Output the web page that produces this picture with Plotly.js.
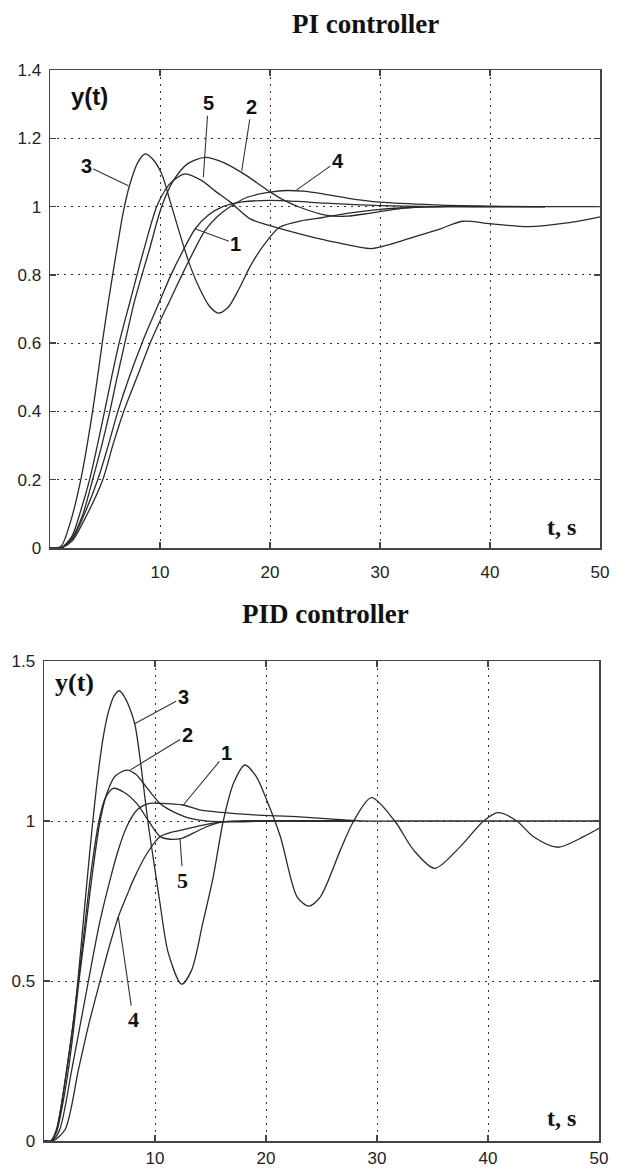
<!DOCTYPE html>
<html>
<head>
<meta charset="utf-8">
<script src="https://cdn.plot.ly/plotly-3.0.1.min.js"></script>
<style>html,body{margin:0;padding:0;background:#fff}#chart{width:629px;height:1169px}</style>
</head>
<body>
<div id="chart"></div>
<script>
// ---------- PI controller (top) ----------
const piT1 = [0, 1, 2, 3, 4.34, 5.2, 6.17, 7.2, 8.36, 9.2, 10.0, 11.0, 12.0, 13.2, 14.4, 15.7, 17.5, 20, 22.5, 25, 30, 35, 40, 45];
const piY1 = [0, 0, 0.025, 0.09, 0.2, 0.29, 0.4, 0.5, 0.6, 0.665, 0.725, 0.8, 0.865, 0.935, 0.975, 1.0, 1.014, 1.018, 1.015, 1.01, 1.003, 1.0, 1.0, 1.0];

const piT2 = [0, 1, 2, 3, 3.87, 4.7, 5.44, 6.1, 6.8, 7.7, 9.0, 10.15, 11.2, 12.5, 14.1, 15.7, 17.4, 18.8, 20, 21.3, 22.7, 25.2, 27, 29, 32, 35, 40, 45];
const piY2 = [0, 0, 0.03, 0.1, 0.2, 0.3, 0.4, 0.5, 0.6, 0.725, 0.87, 1.0, 1.075, 1.125, 1.144, 1.13, 1.1, 1.07, 1.043, 1.018, 0.998, 0.974, 0.972, 0.98, 0.995, 1.0, 1.0, 1.0];

const piT3 = [0, 1, 1.8, 2.8, 3.87, 4.75, 5.3, 5.9, 6.67, 7.27, 8.0, 8.64, 9.3, 10.15, 10.9, 11.8, 12.7, 13.6, 14.5, 15.3, 16.2, 17.2, 18.2, 19.5, 20.9, 22.8, 24.8, 27, 30, 33, 36, 40, 45, 50];
const piY3 = [0, 0.005, 0.07, 0.2, 0.4, 0.6, 0.72, 0.84, 0.985, 1.066, 1.13, 1.154, 1.14, 1.096, 1.018, 0.92, 0.83, 0.76, 0.708, 0.688, 0.705, 0.76, 0.825, 0.89, 0.94, 0.958, 0.968, 0.98, 0.992, 0.998, 1.0, 1.0, 1.0, 1.0];

const piT4 = [0, 1, 2, 3, 4.8, 5.7, 6.7, 7.9, 9.1, 10.0, 10.9, 12.0, 13.0, 14.1, 15.2, 16.4, 18, 20, 21.5, 23, 25, 27, 30, 35, 40, 45];
const piY4 = [0, 0, 0.02, 0.075, 0.2, 0.3, 0.4, 0.5, 0.6, 0.665, 0.725, 0.8, 0.865, 0.93, 0.97, 1.0, 1.028, 1.042, 1.047, 1.045, 1.036, 1.025, 1.013, 1.005, 1.001, 1.0];

const piT5 = [0, 1, 2, 2.8, 3.6, 4.3, 4.96, 5.6, 6.28, 7.3, 8.5, 9.7, 10.5, 11.2, 12.3, 13.8, 15.0, 16.4, 18.2, 20, 23.3, 26, 29.2, 31, 33, 35.5, 37.5, 40, 43.5, 47, 50];
const piY5 = [0, 0, 0.035, 0.11, 0.2, 0.3, 0.4, 0.5, 0.6, 0.725, 0.87, 1.0, 1.05, 1.076, 1.096, 1.076, 1.046, 1.013, 0.964, 0.944, 0.915, 0.895, 0.877, 0.89, 0.91, 0.935, 0.957, 0.95, 0.941, 0.952, 0.97];

// ---------- PID controller (bottom) ----------
const pidT1 = [0, 0.7, 1.4, 2.5, 4.0, 5.0, 5.95, 6.7, 7.45, 8.4, 9.5, 10.5, 12.5, 14, 16, 18.6, 23, 26, 28.5, 32, 40, 50];
const pidY1 = [0, 0, 0.034, 0.222, 0.5, 0.68, 0.816, 0.91, 0.982, 1.035, 1.055, 1.055, 1.05, 1.035, 1.027, 1.02, 1.013, 1.006, 1.0, 1.0, 1.0, 1.0];

const pidT2 = [0, 0.6, 1.14, 1.6, 2.1, 2.6, 3.15, 3.7, 4.3, 5.05, 5.7, 6.4, 7.45, 8.3, 8.95, 9.7, 10.45, 11.2, 11.95, 13, 14.05, 15.5, 17, 20, 24, 28];
const pidY2 = [0, 0, 0.03, 0.1, 0.2, 0.33, 0.5, 0.65, 0.82, 1.0, 1.09, 1.14, 1.159, 1.145, 1.118, 1.085, 1.055, 1.037, 1.024, 1.01, 1.003, 0.998, 0.997, 1.0, 1.0, 1.0];

const pidT3 = [0, 0.6, 1.14, 1.6, 2.04, 2.6, 3.05, 3.5, 3.95, 4.4, 4.85, 5.34, 5.8, 6.3, 6.79, 7.3, 7.75, 8.2, 8.75, 9.35, 10.0, 10.45, 11.2, 12.4, 13.3, 14.3, 15.25, 16.15, 17.1, 18.1, 19.1, 20.06, 21.3, 22.8, 23.85, 24.9, 26.7, 27.9, 29.5, 31.6, 33.3, 35.2, 37.5, 39.6, 40.9, 42.6, 44.1, 46.3, 48.6, 50];
const pidY3 = [0, 0, 0.034, 0.12, 0.222, 0.36, 0.5, 0.67, 0.84, 1.0, 1.14, 1.263, 1.34, 1.39, 1.407, 1.385, 1.35, 1.3, 1.17, 1.0, 0.847, 0.743, 0.587, 0.49, 0.534, 0.68, 0.826, 1.0, 1.12, 1.175, 1.14, 1.066, 0.951, 0.763, 0.734, 0.763, 0.909, 1.0, 1.073, 1.0, 0.909, 0.852, 0.92, 1.0, 1.026, 1.0, 0.951, 0.918, 0.951, 0.977];

const pidT4 = [0, 0.8, 1.9, 3.1, 4.0, 5.05, 5.9, 6.7, 7.5, 8.05, 9.3, 10.45, 11.5, 12.5, 14, 16.15, 18, 22, 28];
const pidY4 = [0, 0, 0.036, 0.222, 0.36, 0.5, 0.61, 0.701, 0.77, 0.816, 0.9, 0.951, 0.965, 0.972, 0.985, 0.998, 1.0, 1.0, 1.0];

const pidT5 = [0, 0.6, 1.1, 1.6, 2.05, 2.6, 3.1, 3.6, 4.2, 4.95, 5.5, 6.24, 7.2, 8.35, 9.55, 10.45, 11.35, 12.4, 13.5, 14.65, 16.2, 18, 21, 25, 28];
const pidY5 = [0, 0, 0.034, 0.12, 0.222, 0.36, 0.5, 0.65, 0.83, 1.0, 1.07, 1.102, 1.09, 1.055, 0.993, 0.952, 0.943, 0.946, 0.963, 0.982, 0.998, 1.0, 1.0, 1.0, 1.0];

// axis ticks
const xTicks = [10, 20, 30, 40, 50];
const piYTicks = [0, 0.2, 0.4, 0.6, 0.8, 1, 1.2, 1.4];
const pidYTicks = [0, 0.5, 1, 1.5];

const lineStyle = {color: '#2a2a2a', width: 1.3, shape: 'spline', smoothing: 0.8};
function tr(x, y, xa, ya) {
  return {x: x, y: y, xaxis: xa, yaxis: ya, type: 'scatter', mode: 'lines', line: lineStyle, hoverinfo: 'skip', showlegend: false};
}
const data = [
  tr(piT1, piY1, 'x', 'y'), tr(piT2, piY2, 'x', 'y'), tr(piT3, piY3, 'x', 'y'),
  tr(piT4, piY4, 'x', 'y'), tr(piT5, piY5, 'x', 'y'),
  tr(pidT1, pidY1, 'x2', 'y2'), tr(pidT2, pidY2, 'x2', 'y2'), tr(pidT3, pidY3, 'x2', 'y2'),
  tr(pidT4, pidY4, 'x2', 'y2'), tr(pidT5, pidY5, 'x2', 'y2')
];

const tickFont = {family: 'Liberation Sans, Arial, sans-serif', size: 17, color: '#222'};
function xAxis(domain, anchor, standoff) {
  return {domain: domain, anchor: anchor, range: [0, 50], tickvals: xTicks, showgrid: true,
    gridcolor: '#333', griddash: '2px,5px', gridwidth: 1, zeroline: false,
    showline: true, linecolor: '#444', linewidth: 1.5, mirror: 'ticks',
    ticks: 'inside', ticklen: 6, tickcolor: '#444', tickwidth: 1.3,
    tickfont: tickFont, ticklabelstandoff: standoff, fixedrange: true};
}
function yAxis(domain, anchor, rng, vals) {
  return {domain: domain, anchor: anchor, range: rng, tickvals: vals, showgrid: true,
    gridcolor: '#333', griddash: '2px,5px', gridwidth: 1, zeroline: false,
    showline: true, linecolor: '#444', linewidth: 1.5, mirror: 'ticks',
    ticks: 'inside', ticklen: 6, tickcolor: '#444', tickwidth: 1.3,
    tickfont: tickFont, ticklabelstandoff: 4, fixedrange: true};
}

const serifB = {family: 'Liberation Serif, Times New Roman, serif', size: 27, color: '#111'};
const labSans = {family: 'Liberation Sans Narrow, Liberation Sans, Arial, sans-serif', size: 20, color: '#111'};
const labSerif = {family: 'Liberation Serif, Times New Roman, serif', size: 22, color: '#111'};

function lab(text, x, y, ax, ay, xr, yr, font) {
  return {text: '<b>' + text + '</b>', x: x, y: y, xref: xr, yref: yr, ax: ax, ay: ay,
    showarrow: true, arrowhead: 0, arrowwidth: 1.1, arrowcolor: '#333', standoff: 0,
    font: font, borderpad: 1};
}
function txt(text, x, y, xr, yr, font) {
  return {text: text, x: x, y: y, xref: xr, yref: yr, showarrow: false, font: font,
    xanchor: 'center', yanchor: 'middle'};
}

const annotations = [
  txt('<b>PI controller</b>', 365 / 629, 1 - 24 / 1169, 'paper', 'paper', serifB),
  txt('<b>PID controller</b>', 325 / 629, 1 - 614 / 1169, 'paper', 'paper', serifB),
  txt('<b>y(t)</b>', 89 / 629, 1 - 96 / 1169, 'paper', 'paper', {family: 'Liberation Sans Narrow, Liberation Sans, Arial, sans-serif', size: 24, color: '#111'}),
  txt('<b>y(t)</b>', 74 / 629, 1 - 682 / 1169, 'paper', 'paper', {family: 'Liberation Serif, Times New Roman, serif', size: 26, color: '#111'}),
  txt('<b>t, s</b>', 561 / 629, 1 - 527 / 1169, 'paper', 'paper', {family: 'Liberation Serif, Times New Roman, serif', size: 24, color: '#111'}),
  txt('<b>t, s</b>', 561 / 629, 1 - 1118 / 1169, 'paper', 'paper', {family: 'Liberation Serif, Times New Roman, serif', size: 24, color: '#111'}),
  // PI curve labels
  lab('3', 7.12, 1.061, -42, -20, 'x', 'y', labSans),
  lab('5', 13.94, 1.086, 5, -74, 'x', 'y', labSans),
  lab('2', 17.43, 1.105, 10, -64, 'x', 'y', labSans),
  lab('4', 22.43, 1.049, 41, -29, 'x', 'y', labSans),
  lab('1', 13.18, 0.935, 41, 15, 'x', 'y', labSans),
  // PID curve labels
  lab('3', 8.2, 1.305, 48, -26, 'x2', 'y2', labSans),
  lab('2', 7.75, 1.159, 57, -35, 'x2', 'y2', labSans),
  lab('1', 12.55, 1.05, 43, -52, 'x2', 'y2', labSans),
  lab('5', 12.25, 0.946, 3, 42, 'x2', 'y2', labSerif),
  lab('4', 6.69, 0.701, 15, 103, 'x2', 'y2', labSerif)
];

const layout = {
  width: 629, height: 1169,
  margin: {l: 0, r: 0, t: 0, b: 0},
  paper_bgcolor: '#ffffff', plot_bgcolor: '#ffffff',
  showlegend: false,
  xaxis: xAxis([50 / 629, 600 / 629], 'y', 8),
  yaxis: yAxis([1 - 548 / 1169, 1 - 70 / 1169], 'x', [0, 1.4], piYTicks),
  xaxis2: xAxis([44 / 629, 599 / 629], 'y2', 1),
  yaxis2: yAxis([1 - 1141 / 1169, 1 - 661 / 1169], 'x2', [0, 1.5], pidYTicks),
  annotations: annotations
};

Plotly.newPlot('chart', data, layout, {staticPlot: true, displayModeBar: false});
</script>
</body>
</html>
